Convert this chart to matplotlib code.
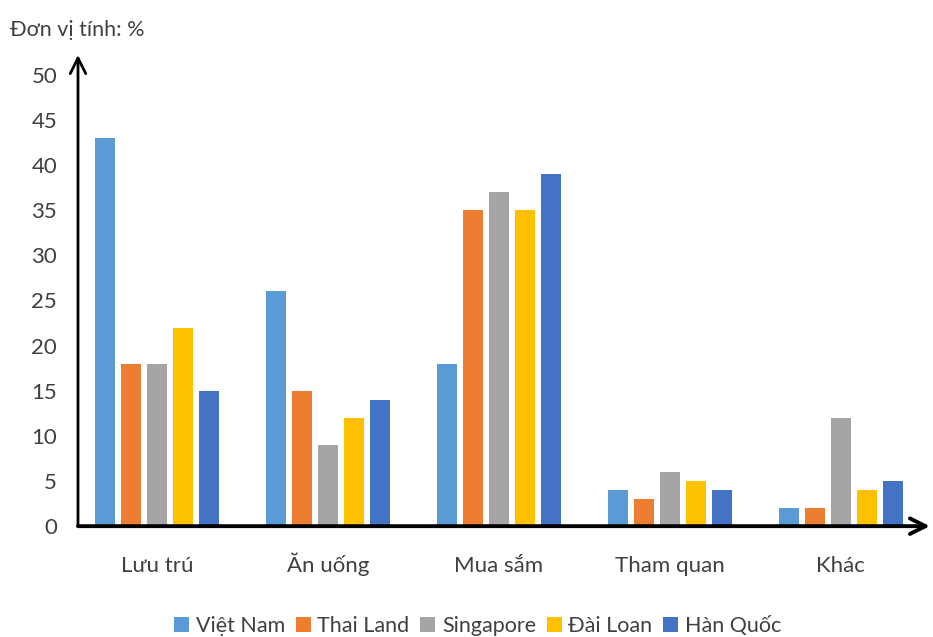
import matplotlib.pyplot as plt
import numpy as np

plt.rcParams['font.family'] = ['Lato', 'DejaVu Sans']

categories = ['Lưu trú', 'Ăn uống', 'Mua sắm', 'Tham quan', 'Khác']
countries = ['Việt Nam', 'Thai Land', 'Singapore', 'Đài Loan', 'Hàn Quốc']
viet_nam = [43, 26, 18, 4, 2]
thai_land = [18, 15, 35, 3, 2]
singapore = [18, 9, 37, 6, 12]
dai_loan = [22, 12, 35, 5, 4]
han_quoc = [15, 14, 39, 4, 5]
colors = ['#5B9BD5', '#ED7D31', '#A5A5A5', '#FFC000', '#4472C4']

series = [viet_nam, thai_land, singapore, dai_loan, han_quoc]

fig = plt.figure(figsize=(9.33, 6.37), dpi=100)
ax = fig.add_axes([0.0836, 0.174, 0.913, 0.7397])

x = np.arange(len(categories))
step = 0.153
width = 0.117
for i, (vals, name, c) in enumerate(zip(series, countries, colors)):
    ax.bar(x + (i - 2) * step, vals, width, color=c, label=name, zorder=2)

ax.set_xlim(-0.462, 4.52)
ax.set_ylim(0, 52.2)
ax.set_yticks(np.arange(0, 51, 5))
ax.set_xticks(x)
ax.set_xticklabels(categories)
for lbl in ax.get_xticklabels():
    lbl.set_va('baseline')
for s in ax.spines.values():
    s.set_visible(False)
ax.tick_params(axis='y', length=0, pad=15, labelsize=16, labelcolor='#404040')
ax.tick_params(axis='x', length=0, pad=33, labelsize=16, labelcolor='#404040')

# arrow axes
ax.annotate('', xy=(0, 1.0), xytext=(0, 0), xycoords='axes fraction',
            arrowprops=dict(arrowstyle='->', lw=2, color='black',
                            mutation_scale=28, shrinkA=0, shrinkB=0), zorder=3)
ax.annotate('', xy=(1.0, 0), xytext=(0, 0), xycoords='axes fraction',
            arrowprops=dict(arrowstyle='->', lw=2.8, color='black',
                            mutation_scale=28, shrinkA=0, shrinkB=0), zorder=3)

fig.text(0.011, 0.953, 'Đơn vị tính: %', fontsize=15.5, color='#404040', va='center')

fig.legend(loc='center', bbox_to_anchor=(0.512, 0.017), ncol=5, frameon=False,
           fontsize=15.5, handlelength=0.7, handleheight=0.7, handletextpad=0.3,
           columnspacing=0.5, labelcolor='#404040')

fig.savefig('out.png', dpi=100)
